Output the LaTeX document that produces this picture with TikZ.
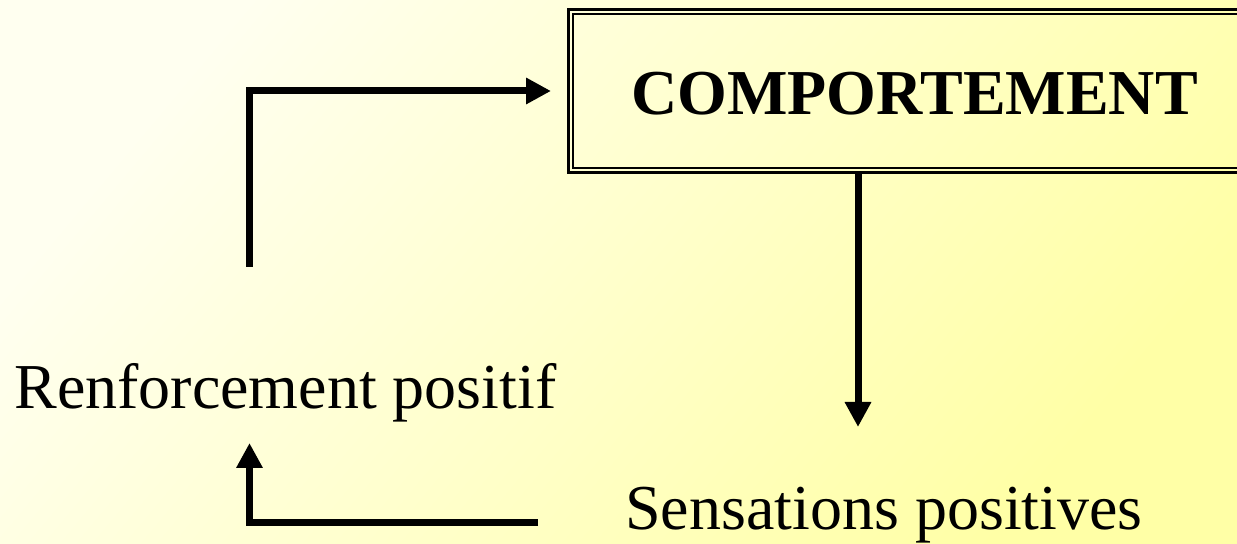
\documentclass[tikz,border=0pt]{standalone}
\usepackage{fontspec}
\setmainfont{Liberation Serif}
\usetikzlibrary{arrows.meta}
\definecolor{bgA}{HTML}{FFFFF0}
\definecolor{bgB}{HTML}{FFFFA6}
\begin{document}
\begin{tikzpicture}[x=0.5pt,y=-0.5pt,
  conn/.style={line width=3.5pt, line join=miter, -{Triangle[length=12.5pt,width=12.5pt]}},
  lbl/.style={font=\fontsize{32}{38}\selectfont, inner sep=0pt, anchor=base west},
  boxnode/.style={draw, line width=1.5pt, minimum width=346pt, minimum height=81.5pt,
    font=\bfseries\fontsize{32}{38}\selectfont, text height=24pt, text depth=0pt, inner sep=0pt}]
\useasboundingbox (0,0) rectangle (1237,544);
\clip (0,0) rectangle (1237,544);
\shade[top color=bgA, bottom color=bgB, shading angle=50] (0,0) rectangle (1237,544);
\node[boxnode] (box) at (914.5,91) {COMPORTEMENT};
\draw[line width=1pt] ([shift={(3pt,-3pt)}]box.north west) rectangle ([shift={(-3pt,3pt)}]box.south east);
\node[lbl] (renf) at (14,409) {Renforcement positif};
\node[lbl] (sens) at (625,530) {Sensations positives};
\coordinate (a1) at (249.5,267);
\coordinate (d1) at (858,427);
\coordinate (b1) at (538,523);
\coordinate (b2) at (249.5,443);
\draw[conn, shorten >=8pt] (a1) |- (box.west);
\draw[conn] (box.south -| d1) -- (d1);
\draw[conn] (b1) -| (b2);
\end{tikzpicture}
\end{document}
